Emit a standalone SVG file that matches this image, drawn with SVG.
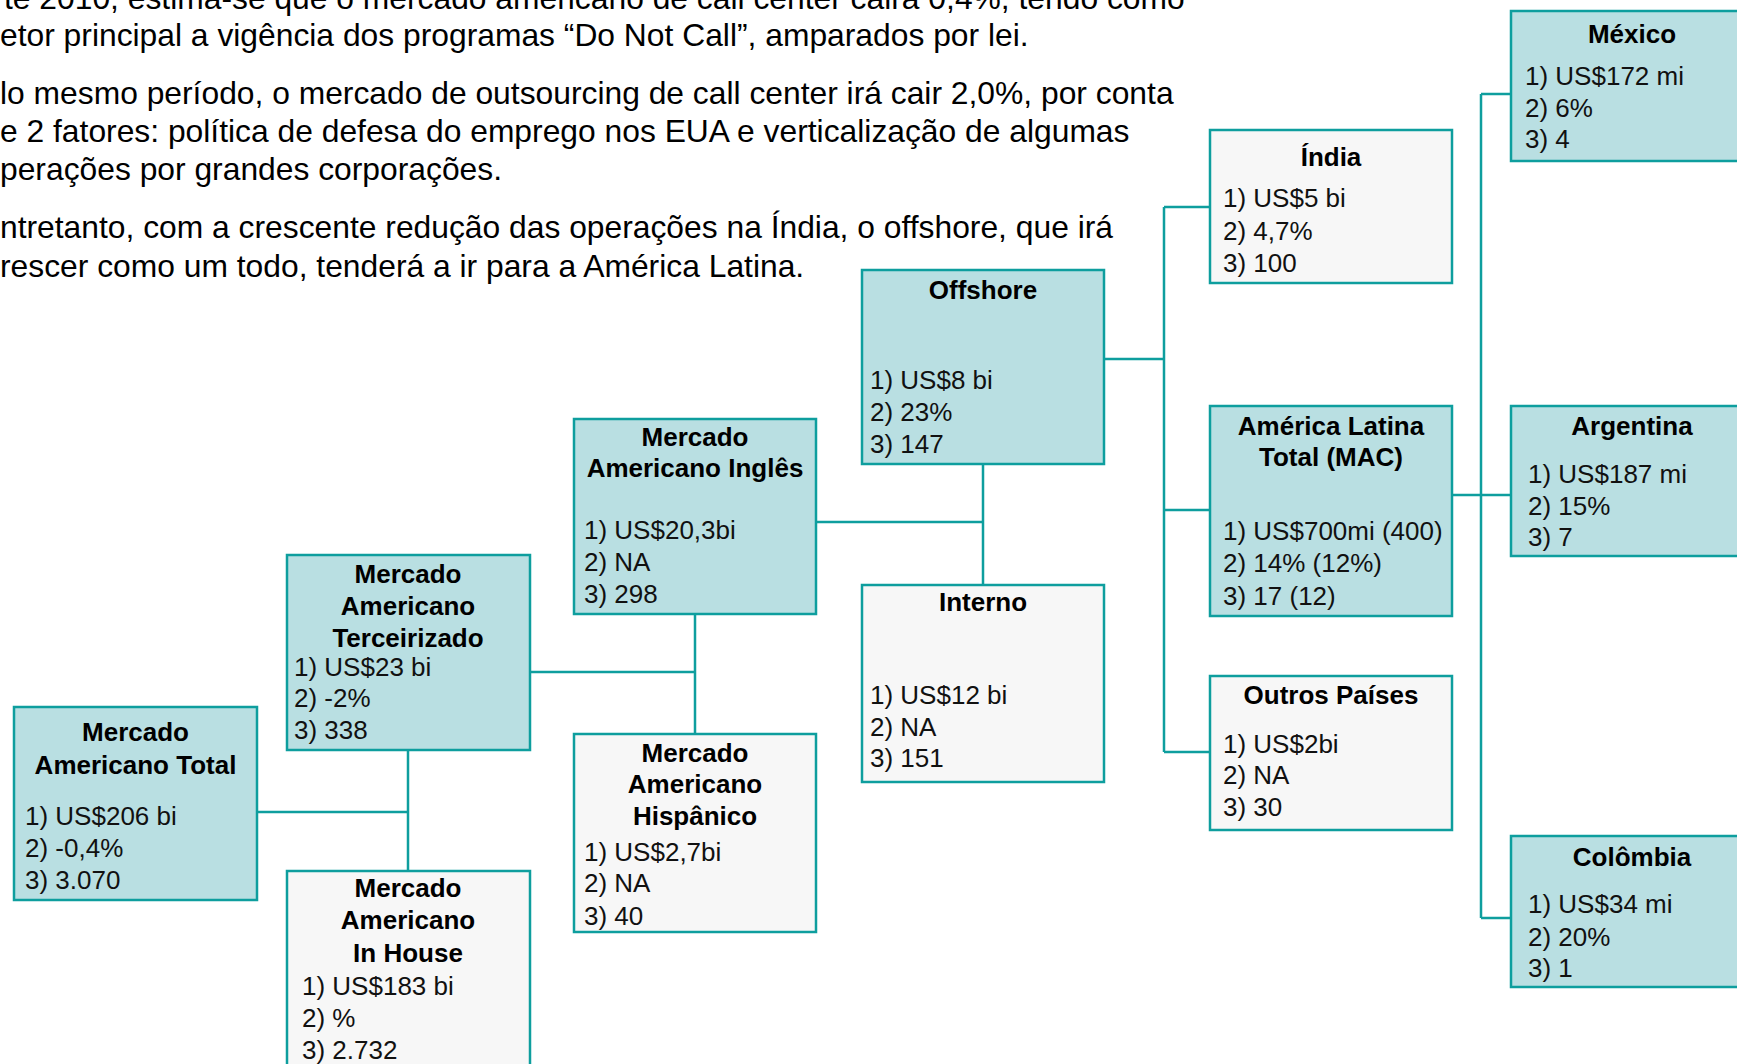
<svg xmlns="http://www.w3.org/2000/svg" width="1737" height="1064" viewBox="0 0 1737 1064">
<style>
.para{font-family:"Liberation Sans",Arial,sans-serif;font-size:31.8px;fill:#000}
.box{stroke:#0E9E9E;stroke-width:2.5}
.teal{fill:#B9DFE2}
.grey{fill:#F7F7F7}
.t{font-family:"Liberation Sans",Arial,sans-serif;font-size:26px;font-weight:bold;fill:#000;text-anchor:middle}
.b{font-family:"Liberation Sans",Arial,sans-serif;font-size:26px;fill:#111}
.c{stroke:#0E9E9E;stroke-width:2.5;fill:none}
</style>
<rect width="1737" height="1064" fill="#fff"/>
<g id="paragraph">
<text class="para" x="4" y="8.5">te 2010, estima-se que o mercado americano de call center cairá 0,4%, tendo como</text>
<text class="para" x="0" y="46">etor principal a vigência dos programas “Do Not Call”, amparados por lei.</text>
<text class="para" x="0" y="104">lo mesmo período, o mercado de outsourcing de call center irá cair 2,0%, por conta</text>
<text class="para" x="0" y="142">e 2 fatores: política de defesa do emprego nos EUA e verticalização de algumas</text>
<text class="para" x="0" y="180">perações por grandes corporações.</text>
<text class="para" x="0" y="238">ntretanto, com a crescente redução das operações na Índia, o offshore, que irá</text>
<text class="para" x="0" y="277">rescer como um todo, tenderá a ir para a América Latina.</text>
</g>
<g id="connectors">
<path class="c" d="M257 812H408M408 750V871"/>
<path class="c" d="M530 672H695M695 614V734"/>
<path class="c" d="M816 522H983M983 464V585"/>
<path class="c" d="M1104 359H1164M1164 207V752M1164 207H1210M1164 510H1210M1164 752H1210"/>
<path class="c" d="M1452 495H1511M1481 94V918M1481 94H1511M1481 918H1511"/>
</g>
<g id="total">
<rect class="box teal" x="14" y="707" width="243" height="193"/>
<text class="t" x="135.5" y="741">Mercado</text>
<text class="t" x="135.5" y="774">Americano Total</text>
<text class="b" x="25" y="825">1) US$206 bi</text>
<text class="b" x="25" y="857">2) -0,4%</text>
<text class="b" x="25" y="889">3) 3.070</text>
</g>
<g id="terceirizado">
<rect class="box teal" x="287" y="555" width="243" height="195"/>
<text class="t" x="408" y="583">Mercado</text>
<text class="t" x="408" y="615">Americano</text>
<text class="t" x="408" y="647">Terceirizado</text>
<text class="b" x="294" y="676">1) US$23 bi</text>
<text class="b" x="294" y="707">2) -2%</text>
<text class="b" x="294" y="739">3) 338</text>
</g>
<g id="inhouse">
<rect class="box grey" x="287" y="871" width="243" height="210"/>
<text class="t" x="408" y="897">Mercado</text>
<text class="t" x="408" y="929">Americano</text>
<text class="t" x="408" y="962">In House</text>
<text class="b" x="302" y="995">1) US$183 bi</text>
<text class="b" x="302" y="1027">2) %</text>
<text class="b" x="302" y="1059">3) 2.732</text>
</g>
<g id="ingles">
<rect class="box teal" x="574" y="419" width="242" height="195"/>
<text class="t" x="695" y="446">Mercado</text>
<text class="t" x="695" y="477">Americano Inglês</text>
<text class="b" x="584" y="539">1) US$20,3bi</text>
<text class="b" x="584" y="571">2) NA</text>
<text class="b" x="584" y="603">3) 298</text>
</g>
<g id="hispanico">
<rect class="box grey" x="574" y="734" width="242" height="198"/>
<text class="t" x="695" y="762">Mercado</text>
<text class="t" x="695" y="793">Americano</text>
<text class="t" x="695" y="825">Hispânico</text>
<text class="b" x="584" y="861">1) US$2,7bi</text>
<text class="b" x="584" y="892">2) NA</text>
<text class="b" x="584" y="925">3) 40</text>
</g>
<g id="offshore">
<rect class="box teal" x="862" y="270" width="242" height="194"/>
<text class="t" x="983" y="299">Offshore</text>
<text class="b" x="870" y="389">1) US$8 bi</text>
<text class="b" x="870" y="421">2) 23%</text>
<text class="b" x="870" y="453">3) 147</text>
</g>
<g id="interno">
<rect class="box grey" x="862" y="585" width="242" height="197"/>
<text class="t" x="983" y="611">Interno</text>
<text class="b" x="870" y="704">1) US$12 bi</text>
<text class="b" x="870" y="736">2) NA</text>
<text class="b" x="870" y="767">3) 151</text>
</g>
<g id="india">
<rect class="box grey" x="1210" y="130" width="242" height="153"/>
<text class="t" x="1331" y="166">Índia</text>
<text class="b" x="1223" y="207">1) US$5 bi</text>
<text class="b" x="1223" y="240">2) 4,7%</text>
<text class="b" x="1223" y="272">3) 100</text>
</g>
<g id="americalatina">
<rect class="box teal" x="1210" y="406" width="242" height="210"/>
<text class="t" x="1331" y="435">América Latina</text>
<text class="t" x="1331" y="466">Total (MAC)</text>
<text class="b" x="1223" y="540">1) US$700mi (400)</text>
<text class="b" x="1223" y="572">2) 14% (12%)</text>
<text class="b" x="1223" y="605">3) 17 (12)</text>
</g>
<g id="outros">
<rect class="box grey" x="1210" y="676" width="242" height="154"/>
<text class="t" x="1331" y="704">Outros Países</text>
<text class="b" x="1223" y="753">1) US$2bi</text>
<text class="b" x="1223" y="784">2) NA</text>
<text class="b" x="1223" y="816">3) 30</text>
</g>
<g id="mexico">
<rect class="box teal" x="1511" y="11" width="242" height="150"/>
<text class="t" x="1632" y="43">México</text>
<text class="b" x="1525" y="85">1) US$172 mi</text>
<text class="b" x="1525" y="117">2) 6%</text>
<text class="b" x="1525" y="148">3) 4</text>
</g>
<g id="argentina">
<rect class="box teal" x="1511" y="406" width="242" height="150"/>
<text class="t" x="1632" y="435">Argentina</text>
<text class="b" x="1528" y="483">1) US$187 mi</text>
<text class="b" x="1528" y="515">2) 15%</text>
<text class="b" x="1528" y="546">3) 7</text>
</g>
<g id="colombia">
<rect class="box teal" x="1511" y="836" width="242" height="151"/>
<text class="t" x="1632" y="866">Colômbia</text>
<text class="b" x="1528" y="913">1) US$34 mi</text>
<text class="b" x="1528" y="946">2) 20%</text>
<text class="b" x="1528" y="977">3) 1</text>
</g>
</svg>
